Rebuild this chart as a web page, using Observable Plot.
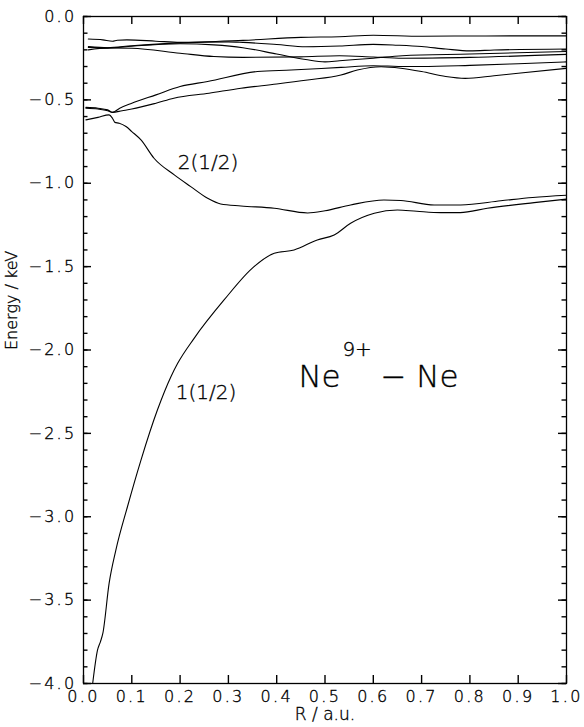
<!DOCTYPE html>
<html>
<head>
<meta charset="utf-8">
<script src="https://cdn.jsdelivr.net/npm/d3@7"></script>
<script src="https://cdn.jsdelivr.net/npm/@observablehq/plot@0.6"></script>
<style>
  body { margin: 0; background: #fff; }
  #chart svg { display: block; background: #fff; }
  #chart svg text { stroke: #000; stroke-width: 0.35px; }
  #chart g[aria-label="y-axis tick label"] text,
  #chart g[aria-label="x-axis tick label"] text { letter-spacing: 2.3px; }
  #chart g[aria-label="curve-label"] text { letter-spacing: 1.5px; }
  #chart g[aria-label="axis-title"] text { letter-spacing: 1.2px; }
</style>
</head>
<body>
<div id="chart"></div>
<script>
// ---- tick values ----
const xTicks = [0, 0.1, 0.2, 0.3, 0.4, 0.5, 0.6, 0.7, 0.8, 0.9, 1.0];
const yTicks = [0, -0.5, -1.0, -1.5, -2.0, -2.5, -3.0, -3.5, -4.0];
const yMinorTicks = d3.range(0, 41).map(i => -i / 10);

// ---- curves (R in a.u., Energy in keV) ----
const c1R = [0.01, 0.04, 0.06, 0.07, 0.09, 0.15, 0.2, 0.33, 0.45, 0.53, 0.6, 0.7, 0.8, 0.9, 1.0];
const c1E = [-0.135, -0.14, -0.148, -0.142, -0.14, -0.148, -0.155, -0.143, -0.125, -0.121, -0.112, -0.118, -0.117, -0.116, -0.116];

const c2R = [0.01, 0.05, 0.1, 0.2, 0.3, 0.33, 0.4, 0.46, 0.53, 0.6, 0.65, 0.7, 0.75, 0.8, 0.85, 1.0];
const c2E = [-0.18, -0.187, -0.175, -0.158, -0.152, -0.155, -0.168, -0.181, -0.177, -0.167, -0.172, -0.18, -0.195, -0.206, -0.201, -0.195];

const c3R = [0.01, 0.05, 0.1, 0.2, 0.27, 0.33, 0.4, 0.46, 0.5, 0.53, 0.6, 0.66, 0.8, 1.0];
const c3E = [-0.185, -0.19, -0.178, -0.163, -0.17, -0.187, -0.225, -0.258, -0.272, -0.265, -0.25, -0.235, -0.225, -0.21];

const c4R = [0.01, 0.05, 0.1, 0.2, 0.27, 0.33, 0.45, 0.53, 0.6, 0.66, 0.8, 1.0];
const c4E = [-0.2, -0.188, -0.19, -0.22, -0.24, -0.245, -0.242, -0.235, -0.243, -0.25, -0.245, -0.227];

const c5R = [0.005, 0.03, 0.05, 0.06, 0.075, 0.1, 0.15, 0.2, 0.257, 0.36, 0.43, 0.533, 0.6, 0.63, 0.66, 0.7, 0.8, 0.9, 1.0];
const c5E = [-0.545, -0.55, -0.56, -0.575, -0.55, -0.52, -0.47, -0.42, -0.39, -0.33, -0.321, -0.305, -0.295, -0.297, -0.3, -0.3, -0.293, -0.283, -0.272];

const c6R = [0.005, 0.03, 0.05, 0.06, 0.08, 0.1, 0.15, 0.187, 0.26, 0.326, 0.4, 0.464, 0.533, 0.567, 0.616, 0.657, 0.7, 0.75, 0.79, 0.85, 0.9, 1.0];
const c6E = [-0.55, -0.555, -0.565, -0.575, -0.565, -0.555, -0.52, -0.49, -0.46, -0.43, -0.405, -0.381, -0.351, -0.321, -0.301, -0.31, -0.33, -0.36, -0.371, -0.355, -0.34, -0.311];

// 2(1/2)
const c7R = [0.005, 0.03, 0.053, 0.06, 0.065, 0.074, 0.088, 0.1, 0.119, 0.146, 0.188, 0.222, 0.257, 0.284, 0.326, 0.395, 0.464, 0.5, 0.553, 0.622, 0.657, 0.726, 0.781, 0.864, 0.93, 1.0];
const c7E = [-0.62, -0.605, -0.59, -0.61, -0.635, -0.64, -0.66, -0.69, -0.74, -0.85, -0.95, -1.02, -1.09, -1.124, -1.136, -1.15, -1.178, -1.165, -1.13, -1.10, -1.103, -1.13, -1.13, -1.105, -1.085, -1.072];

// 1(1/2)
const c8R = [0.019, 0.029, 0.035, 0.04, 0.053, 0.067, 0.091, 0.119, 0.153, 0.181, 0.195, 0.229, 0.291, 0.353, 0.395, 0.436, 0.484, 0.519, 0.553, 0.602, 0.65, 0.69, 0.74, 0.78, 0.836, 0.933, 1.0];
const c8E = [-4.0, -3.8, -3.75, -3.70, -3.40, -3.20, -2.94, -2.66, -2.36, -2.16, -2.08, -1.93, -1.70, -1.50, -1.42, -1.40, -1.34, -1.31, -1.24, -1.18, -1.16, -1.168, -1.176, -1.176, -1.15, -1.116, -1.095];

// ---- annotations ----
const labelTexts = ["2(1/2)", "1(1/2)"];
const labelR = [0.195, 0.191];
const labelE = [-0.878, -2.257];

const systemParts = ["Ne", "9+", "− Ne"];
const systemR = [0.445, 0.536, 0.615];
const systemE = [-2.163, -2.0, -2.163];
const systemSize = [31, 20, 31];

const xTitle = "R / a.u.";
const yTitle = "Energy / keV";

// ---- build table ----
const curves = [[c1R, c1E], [c2R, c2E], [c3R, c3E], [c4R, c4E], [c5R, c5E], [c6R, c6E], [c7R, c7E], [c8R, c8E]];
const rows = curves.flatMap(([R, E], k) => R.map((r, i) => ({curve: k, R: r, E: E[i]})));
const labels = labelTexts.map((t, i) => ({t, R: labelR[i], E: labelE[i]}));
const system = systemParts.map((t, i) => ({t, R: systemR[i], E: systemE[i], s: systemSize[i]}));

const W = 584, H = 727;
const mL = 83, mR = 18, mT = 16, mB = 44;
const fw = W - mL - mR, fh = H - mT - mB;
const xDom = [0, 1], yDom = [-4, 0];
// tick lengths in pixels, converted to data units through the domain spans
const major = 8, minor = 4.5;
const dxMajor = major / fw * (xDom[1] - xDom[0]);
const dxMinor = minor / fw * (xDom[1] - xDom[0]);
const dyMajor = major / fh * (yDom[1] - yDom[0]);
const tickW = 1.4;
const fmt = d3.format(".1f");

const chart = Plot.plot({
  width: W, height: H,
  marginLeft: mL, marginRight: mR, marginTop: mT, marginBottom: mB,
  style: {fontFamily: "DejaVu Sans", fontSize: "16px", fontWeight: 200, color: "#000", background: "#fff"},
  x: {domain: xDom, label: null},
  y: {domain: yDom, label: null},
  marks: [
    // tick labels
    Plot.axisX({anchor: "bottom", ticks: xTicks, tickSize: 0, tickPadding: 7, tickFormat: fmt, label: null, fontWeight: 200}),
    Plot.axisY({anchor: "left", ticks: yTicks, tickSize: 0, tickPadding: 7, tickFormat: fmt, label: null, fontWeight: 200}),
    // inward ticks
    Plot.ruleY(yMinorTicks, {y: d => d, x1: xDom[0], x2: xDom[0] + dxMinor, stroke: "#000", strokeWidth: tickW}),
    Plot.ruleY(yMinorTicks, {y: d => d, x1: xDom[1] - dxMinor, x2: xDom[1], stroke: "#000", strokeWidth: tickW}),
    Plot.ruleY(yTicks, {y: d => d, x1: xDom[0], x2: xDom[0] + dxMajor, stroke: "#000", strokeWidth: tickW}),
    Plot.ruleY(yTicks, {y: d => d, x1: xDom[1] - dxMajor, x2: xDom[1], stroke: "#000", strokeWidth: tickW}),
    Plot.ruleX(xTicks, {x: d => d, y1: yDom[0], y2: yDom[0] + dyMajor, stroke: "#000", strokeWidth: tickW}),
    Plot.ruleX(xTicks, {x: d => d, y1: yDom[1] - dyMajor, y2: yDom[1], stroke: "#000", strokeWidth: tickW}),
    Plot.frame({stroke: "#000", strokeWidth: 1.3}),
    Plot.line(rows, {x: "R", y: "E", z: "curve", curve: "monotone-x", stroke: "#000", strokeWidth: 1.1}),
    Plot.text(labels, {x: "R", y: "E", text: "t", textAnchor: "start", fontSize: 20, fontWeight: 200, fill: "#000", ariaLabel: "curve-label"}),
    Plot.text(system, {x: "R", y: "E", text: "t", textAnchor: "start", fontSize: "s", fontWeight: 200, fill: "#000"}),
    Plot.text([yTitle], {text: d => d, frameAnchor: "left", dx: -72, rotate: -90, fontSize: 16, fontWeight: 200, fill: "#000", ariaLabel: "axis-title"}),
    Plot.text([xTitle], {text: d => d, frameAnchor: "bottom", dy: 36.5, fontSize: 17, fontWeight: 200, fill: "#000", ariaLabel: "axis-title"})
  ]
});
document.getElementById("chart").appendChild(chart);
</script>
</body>
</html>
